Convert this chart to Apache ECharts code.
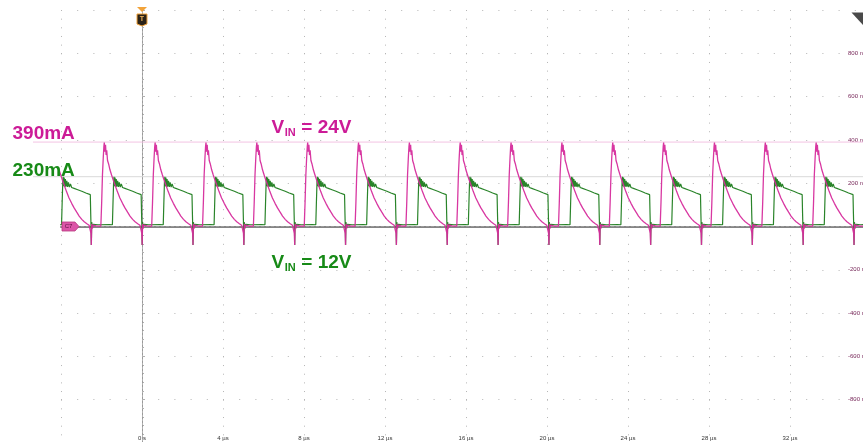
<!DOCTYPE html>
<html>
<head>
<meta charset="utf-8">
<script src="https://cdn.jsdelivr.net/npm/echarts@6/dist/echarts.min.js"></script>
<style>
html,body{margin:0;padding:0;background:#fff;}
#chart{width:863px;height:442px;}
</style>
</head>
<body>
<div id="chart"></div>
<script>
// ---- tick labels ----
const xTickValues = [0, 4, 8, 12, 16, 20, 24, 28, 32];
const xTickLabels = ['0 s', '4 µs', '8 µs', '12 µs', '16 µs', '20 µs', '24 µs', '28 µs', '32 µs'];
const yTickValues = [800, 600, 400, 200, -200, -400, -600, -800];
const yTickLabels = ['800 mA', '600 mA', '400 mA', '200 mA', '-200 mA', '-400 mA', '-600 mA', '-800 mA'];

// ---- switching cycles: time (µs) of each VIN=24V current peak ----
const cyclePeaks = [-4.373, -1.862, 0.649, 3.160, 5.671, 8.182, 10.693, 13.204, 15.715,
                    18.226, 20.737, 23.248, 25.759, 28.270, 30.781, 33.292];

// ---- one traced cycle of each waveform: [µs after the 24V peak, mA] ----
const pinkCycle = [
  [-0.17, 2], [-0.13, 110], [-0.09, 240], [-0.05, 320], [-0.02, 370], [0, 388],
  [0.03, 345], [0.06, 378], [0.09, 330], [0.12, 352], [0.16, 305], [0.21, 290],
  [0.28, 262], [0.36, 238], [0.45, 212], [0.53, 192], [0.65, 160], [0.77, 132],
  [0.90, 107], [1.02, 86], [1.15, 66], [1.27, 48], [1.40, 33], [1.52, 22],
  [1.65, 13], [1.76, 6], [1.83, 2], [1.85, -30], [1.87, -85], [1.89, 12],
  [1.92, -10], [1.96, 6], [2.02, 0], [2.10, 3], [2.20, 2]
];
const greenCycle = [
  [0.40, 8], [0.43, 110], [0.46, 205], [0.48, 230], [0.50, 186], [0.53, 226],
  [0.56, 184], [0.59, 219], [0.62, 184], [0.66, 211], [0.70, 183], [0.74, 204],
  [0.79, 182], [0.84, 197], [0.90, 180], [0.96, 186], [1.02, 176], [1.20, 170],
  [1.40, 163], [1.60, 155], [1.82, 147], [1.84, 60], [1.86, -20], [1.87, -85],
  [1.89, 20], [1.92, -6], [1.96, 10], [2.20, 8], [2.75, 9]
];
const pinkLead = [];            // nothing before first cycle
const pinkTail = [[36, 2]];     // flat after last cycle
const greenLead = [[-4.2, 8]];  // flat before first rise
const greenTail = [];

// ---- cursor levels (mA) ----
const cursorLevels = [390, 230];

// ---- build series tables ----
const pinkData = pinkLead.slice();
cyclePeaks.forEach(p => pinkCycle.forEach(([dt, v]) => pinkData.push([+(p + dt).toFixed(3), v])));
pinkTail.forEach(d => pinkData.push(d));
const greenData = greenLead.slice();
cyclePeaks.forEach(p => greenCycle.forEach(([dt, v]) => greenData.push([+(p + dt).toFixed(3), v])));
greenTail.forEach(d => greenData.push(d));

const FONT = '"Liberation Sans", Arial, sans-serif';
const PINK_TXT = '#cc1b97';
const GREEN_TXT = '#178a17';

const chart = echarts.init(document.getElementById('chart'), null, {renderer: 'canvas'});

const option = {
  animation: false,
  backgroundColor: '#ffffff',
  grid: {left: 61, top: 10, width: 810, height: 433, outerBoundsMode: 'none', containLabel: false},
  xAxis: [{
    type: 'value', min: -4, max: 36, interval: 4, position: 'bottom',
    axisLine: {show: false}, axisTick: {show: false},
    splitLine: {show: true, lineStyle: {color: '#b5b5b5', width: 1, type: [1, 7.66]}},
    axisLabel: {
      inside: true, margin: 2, fontSize: 6, color: '#333', fontFamily: FONT,
      formatter: v => { const i = xTickValues.indexOf(v); return i >= 0 ? xTickLabels[i] : ''; }
    }
  }, {
    type: 'value', min: -4, max: 36, interval: 4, position: 'top', offset: 1,
    axisLine: {show: true, lineStyle: {color: '#858585', width: 2}},
    axisTick: {show: false}, axisLabel: {show: false}, splitLine: {show: false}
  }],
  yAxis: [{
    type: 'value', min: -1000, max: 1000, interval: 200, position: 'left',
    axisLine: {show: true, lineStyle: {color: '#b0b0b0', width: 1}},
    axisTick: {show: true, inside: true, length: 3, lineStyle: {color: '#b0b0b0'}},
    minorTick: {show: true, splitNumber: 5, length: 2, lineStyle: {color: '#b0b0b0'}},
    axisLabel: {show: false},
    splitLine: {show: true, lineStyle: {color: '#b5b5b5', width: 1, type: [1, 15.2]}}
  }, {
    type: 'value', min: -1000, max: 1000, interval: 200, position: 'right',
    axisLine: {show: false}, axisTick: {show: false}, splitLine: {show: false},
    axisLabel: {
      inside: true, margin: 23, align: 'left', fontSize: 6, color: '#7a2a5c', fontFamily: FONT,
      formatter: v => { const i = yTickValues.indexOf(v); return i >= 0 ? yTickLabels[i] : ''; }
    }
  }],
  series: [{
    name: 'ref', type: 'line', data: [], silent: true, z: 1,
    markLine: {
      silent: true, symbol: 'none', z: 1, label: {show: false},
      data: [
        {xAxis: 0, lineStyle: {color: '#9a9a9a', width: 1, type: [2, 2]}},
        {yAxis: 0, lineStyle: {color: '#9a9a9a', width: 1, type: [3, 2]}}
      ]
    }
  }, {
    name: 'VIN = 12V', type: 'line', data: greenData, showSymbol: false, symbol: 'none',
    lineStyle: {color: '#1f7d1f', width: 1.2, opacity: 0.95}, z: 3
  }, {
    name: 'VIN = 24V', type: 'line', data: pinkData, showSymbol: false, symbol: 'none',
    lineStyle: {color: '#d62c9c', width: 1.3, opacity: 0.95}, z: 4
  }]
};
chart.setOption(option);

const x0 = chart.convertToPixel({xAxisIndex: 0}, 0);
const y0 = chart.convertToPixel({yAxisIndex: 0}, 0);
const yc = cursorLevels.map(v => chart.convertToPixel({yAxisIndex: 0}, v));

function txt(x, y, text, size, fill) {
  return {type: 'text', z: 20, style: {x: x, y: y, text: text, fill: fill,
    font: 'bold ' + size + 'px ' + FONT, verticalAlign: 'middle', align: 'left'}};
}

chart.setOption({
  graphic: [
    {type: 'line', z: 1, shape: {x1: 33, y1: yc[0], x2: 863, y2: yc[0]}, style: {stroke: '#f3c3e3', lineWidth: 1}},
    {type: 'line', z: 1, shape: {x1: 33, y1: yc[1], x2: 863, y2: yc[1]}, style: {stroke: '#d9d9d9', lineWidth: 1}},
    txt(12.5, 133.4, '390mA', 19, PINK_TXT),
    txt(12.5, 171, '230mA', 19, GREEN_TXT),
    txt(271.5, 127.6, 'V', 19, PINK_TXT),
    txt(284.8, 133.4, 'IN', 11, PINK_TXT),
    txt(296, 127.6, ' = 24V', 19, PINK_TXT),
    txt(271.5, 262.6, 'V', 19, GREEN_TXT),
    txt(284.8, 268.4, 'IN', 11, GREEN_TXT),
    txt(296, 262.6, ' = 12V', 19, GREEN_TXT),
    // trigger marker
    {type: 'polygon', z: 20, shape: {points: [[x0 - 5, 7], [x0 + 5, 7], [x0, 12]]}, style: {fill: '#f2a33a'}},
    {type: 'polygon', z: 20, shape: {points: [[x0 - 5, 14], [x0 + 5, 14], [x0 + 5, 24], [x0, 26], [x0 - 5, 24]]},
      style: {fill: '#2a2218', stroke: '#f2a33a', lineWidth: 1}},
    {type: 'text', z: 21, style: {x: x0, y: 19.5, text: 'T', fill: '#f2b55a', font: 'bold 7px ' + FONT, align: 'center', verticalAlign: 'middle'}},
    // channel marker
    {type: 'polygon', z: 20, shape: {points: [[62, y0 - 4.5], [75, y0 - 4.5], [79, y0], [75, y0 + 4.5], [62, y0 + 4.5]]},
      style: {fill: '#dc56a8', stroke: '#b8387f', lineWidth: 0.8}},
    {type: 'text', z: 21, style: {x: 68.5, y: y0, text: 'C7', fill: '#5a1040', font: '6px ' + FONT, align: 'center', verticalAlign: 'middle'}},
    // top-right corner marker
    {type: 'polygon', z: 20, shape: {points: [[851.5, 12.5], [875, 12.5], [863.5, 25.5]]}, style: {fill: '#4a4a4a'}}
  ]
});
</script>
</body>
</html>
